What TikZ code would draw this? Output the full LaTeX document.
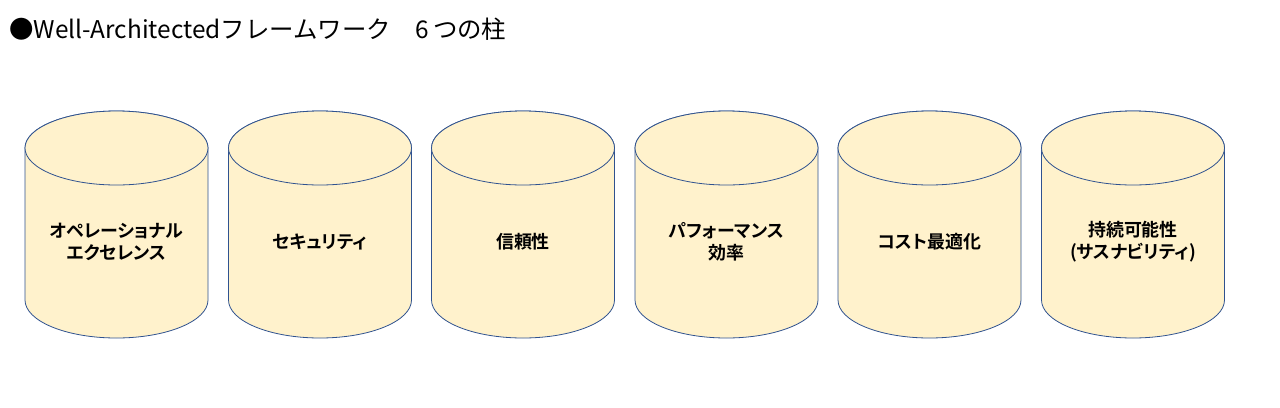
\documentclass[tikz,border=0pt]{standalone}
\usepackage{fontspec}
\setmainfont{Noto Sans CJK JP}
\newfontfamily\jpbold[RawFeature=+palt]{Noto Sans CJK JP Bold}
\definecolor{pillfill}{HTML}{FFF2CC}
\definecolor{pillline}{HTML}{2F528F}
\tikzset{
  pillar/.style={fill=pillfill, draw=pillline, line width=0.8bp},
  pilltext/.style={font=\jpbold\fontsize{18}{22}\selectfont, align=center, text=black, inner sep=0pt},
  titletext/.style={font=\fontsize{24.5}{28}\selectfont, anchor=base west, inner sep=0pt, text=black}
}
\newcommand{\pillarshape}[1]{%
  \path[pillar] (#1-91.5,148) -- (#1-91.5,300)
     arc[start angle=180,end angle=0,x radius=91.5,y radius=38]
     -- (#1+91.5,148)
     arc[start angle=0,end angle=-180,x radius=91.5,y radius=37] -- cycle;
  \draw[pillar] (#1,148) ellipse[x radius=91.5,y radius=37];
}
\begin{document}
\begin{tikzpicture}[x=1bp,y=-1bp]
\useasboundingbox (0,0) rectangle (1280,407);
\node[titletext] (title) at (9,38) {●Well-Architectedフレームワーク　6\hspace{4bp}つの柱};
\pillarshape{116.5}
\pillarshape{320}
\pillarshape{523}
\pillarshape{726.5}
\pillarshape{929.5}
\pillarshape{1133}
\node[pilltext] (p1) at (116.5,242) {オペレーショナル\\エクセレンス};
\node[pilltext] (p2) at (320,242) {セキュリティ};
\node[pilltext] (p3) at (523,242) {信頼性};
\node[pilltext] (p4) at (726.5,242) {パフォーマンス\\効率};
\node[pilltext] (p5) at (929.5,242) {コスト最適化};
\node[pilltext] (p6) at (1133,242) {持続可能性\\(サスナビリティ)};
\end{tikzpicture}
\end{document}
